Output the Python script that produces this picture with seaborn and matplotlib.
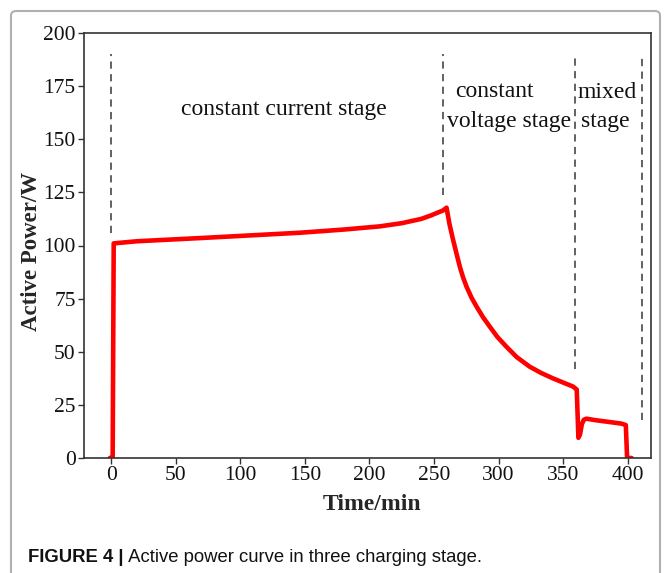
import numpy as np
import pandas as pd
import matplotlib
matplotlib.use("Agg")
import matplotlib.pyplot as plt
from matplotlib.patches import FancyBboxPatch
import seaborn as sns

# ---- data ----
time_min = [-1, 1.2, 2.0, 20, 69, 100, 146, 180, 208, 225, 240, 247, 253, 257, 259.7,
            262, 264.8, 267.5, 270, 272.5, 275.2, 279, 283, 288, 293.2, 299, 306, 314, 324,
            333, 342, 350, 357.7, 360.5,
            361.8, 363, 364.5, 366, 368, 375, 385, 395, 398.5, 399.5, 403]
power_w = [0, 0, 101, 102, 103.5, 104.5, 106, 107.5, 109, 110.5, 112.5, 114, 115.5, 116.5, 117.8,
           110, 102.6, 96, 90, 85, 80.6, 75.5, 71.2, 66.2, 61.8, 57, 52.4, 47.5, 43,
           40, 37.5, 35.5, 33.6, 32.2,
           9.5, 11, 16, 18, 18.5, 17.8, 17, 16.2, 15.5, 0, 0]

stage_x = [0, 257, 359.5, 411]
stage_top = [190, 190, 190, 190]
stage_bottom = [106, 124, 42, 18]

labels = ["constant current stage", "constant", "voltage stage", "mixed", "stage"]
label_x = [134, 297, 308, 384, 383]
label_y = [164, 172.5, 158.5, 172, 158.5]

x_ticks = [0, 50, 100, 150, 200, 250, 300, 350, 400]
y_ticks = [0, 25, 50, 75, 100, 125, 150, 175, 200]

df = pd.DataFrame({"Time/min": time_min, "Active Power/W": power_w})

sns.set_theme(style="ticks")
plt.rcParams["font.family"] = ["Liberation Serif", "DejaVu Serif"]

fig = plt.figure(figsize=(6.65, 5.73), dpi=100)
ax = fig.add_axes([84 / 665, 1 - 458 / 573, (651 - 84) / 665, (458 - 33) / 573])

sns.lineplot(data=df, x="Time/min", y="Active Power/W", color="#ff0000",
             linewidth=3.3, estimator=None, sort=False, ax=ax)

ax.vlines(stage_x, stage_bottom, stage_top, colors="#555555",
          linestyles=(0, (4, 3)), linewidth=1.3)

for t, x, y in zip(labels, label_x, label_y):
    ax.text(x, y, t, ha="center", va="center", fontsize=17, color="#111111")

ax.set_xlim(-21, 418)
ax.set_ylim(0, 200)
ax.set_xticks(x_ticks)
ax.set_yticks(y_ticks)
ax.tick_params(axis="both", labelsize=15.5, length=4, width=1, color="#333333",
               labelcolor="#111111", pad=2)
for s in ax.spines.values():
    s.set_visible(True)
    s.set_color("#333333")
    s.set_linewidth(1.2)

ax.set_xlabel("Time/min", fontsize=17, fontweight="bold")
ax.set_ylabel("Active Power/W", fontsize=16.5, fontweight="bold")
ax.xaxis.set_label_coords((372 - 84) / 567, -(505 - 458) / 425)
ax.yaxis.set_label_coords((32 - 84) / 567, (458 - 251) / 425)
ax.xaxis.label.set_va("center")
ax.yaxis.label.set_va("center")

# outer frame
frame = FancyBboxPatch((11 / 665, -0.05), (660 - 11) / 665, (573 - 11) / 573 + 0.05,
                       boxstyle="round,pad=0,rounding_size=0.008",
                       transform=fig.transFigure, facecolor="none",
                       edgecolor="#b0b0b0", linewidth=1.5, clip_on=False)
fig.patches.append(frame)

t1 = fig.text(28 / 665, 1 - 557 / 573, "FIGURE 4 |", fontsize=13.3, fontweight="bold",
              family=["Liberation Sans", "DejaVu Sans"], va="center", color="#111111")
ax.annotate(" Active power curve in three charging stage.", xy=(1, 0.5),
            xycoords=t1, va="center", ha="left", fontsize=13.3,
            family=["Liberation Sans", "DejaVu Sans"], color="#111111",
            annotation_clip=False)

fig.savefig("out.png", dpi=100)
